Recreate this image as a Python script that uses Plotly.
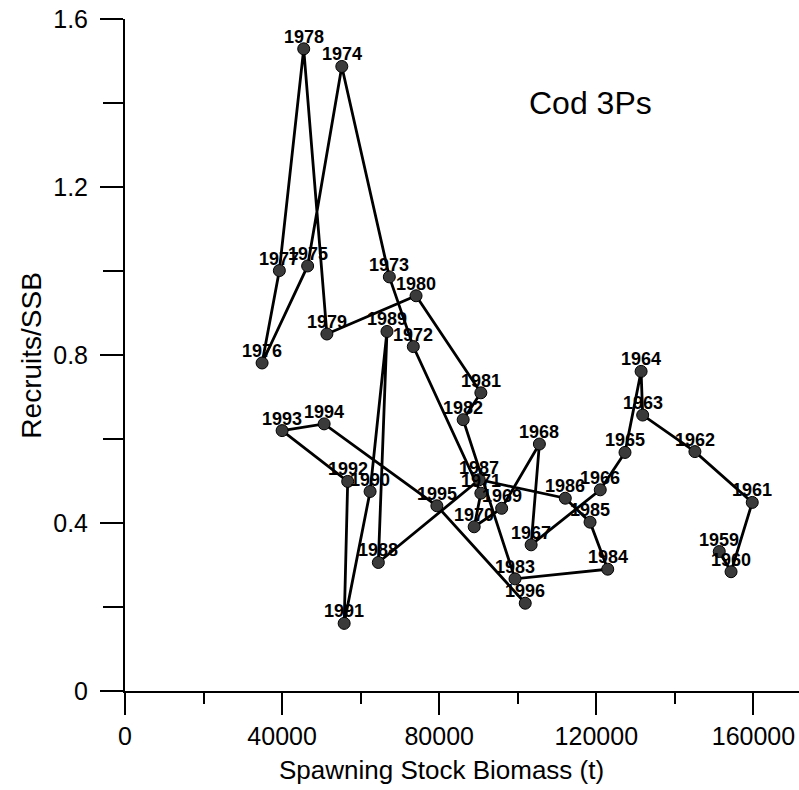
import plotly.graph_objects as go

years = [1959, 1960, 1961, 1962, 1963, 1964, 1965, 1966, 1967, 1968, 1969, 1970,
         1971, 1972, 1973, 1974, 1975, 1976, 1977, 1978, 1979, 1980, 1981, 1982,
         1983, 1984, 1985, 1986, 1987, 1988, 1989, 1990, 1991, 1992, 1993, 1994,
         1995, 1996]
ssb = [151300, 154300, 159700, 145100, 131800, 131400, 127300, 121000, 103400,
       105500, 95900, 88900, 90600, 73400, 67300, 55200, 46500, 34900, 39300,
       45500, 51400, 74100, 90600, 86100, 99300, 122900, 118400, 112100, 90200,
       64500, 66700, 62400, 55800, 56700, 40000, 50700, 79400, 101900]
rs = [0.332, 0.284, 0.449, 0.570, 0.657, 0.761, 0.568, 0.479, 0.348, 0.588,
      0.435, 0.391, 0.471, 0.820, 0.986, 1.487, 1.012, 0.781, 1.001, 1.529,
      0.850, 0.941, 0.710, 0.646, 0.267, 0.290, 0.402, 0.459, 0.503, 0.306,
      0.856, 0.475, 0.161, 0.499, 0.620, 0.636, 0.441, 0.209]

x_ticks = [0, 40000, 80000, 120000, 160000]
y_ticks = [0, 0.4, 0.8, 1.2, 1.6]

FONT = "Liberation Sans, Arial, sans-serif"

fig = go.Figure()
fig.add_trace(go.Scatter(
    x=ssb, y=rs,
    mode="lines+markers",
    line=dict(color="black", width=2.8),
    marker=dict(size=12, color="#3a3a3a", line=dict(color="black", width=1)),
    cliponaxis=False,
    showlegend=False,
))

# year labels, anchored to each data point through the axis scales
for yr, xv, yv in zip(years, ssb, rs):
    fig.add_annotation(x=xv, y=yv, xref="x", yref="y", text=str(yr),
                       showarrow=False, xanchor="center", yanchor="middle",
                       yshift=12,
                       font=dict(family=FONT, size=18, color="black", weight="bold"))

fig.add_annotation(text="Cod 3Ps", xref="paper", yref="paper", x=0.69, y=0.875,
                   xanchor="center", yanchor="middle", showarrow=False,
                   font=dict(family=FONT, size=32, color="black"))
fig.add_annotation(text="Spawning Stock Biomass (t)", xref="paper", yref="paper",
                   x=0.47, y=-0.118, xanchor="center", yanchor="middle", showarrow=False,
                   font=dict(family=FONT, size=26, color="black"))
fig.add_annotation(text="Recruits/SSB", xref="paper", yref="paper",
                   x=-0.14, y=0.5, xanchor="center", yanchor="middle", showarrow=False,
                   textangle=-90,
                   font=dict(family=FONT, size=28, color="black"))

fig.update_layout(
    width=799, height=790,
    margin=dict(l=125, r=0, t=19, b=99),
    plot_bgcolor="white", paper_bgcolor="white",
    font=dict(family=FONT, color="black"),
)
fig.update_xaxes(
    range=[0, 171600], tickvals=x_ticks, ticktext=[str(v) for v in x_ticks],
    ticks="outside", ticklen=22, tickwidth=2, tickcolor="black",
    showline=True, linecolor="black", linewidth=2,
    showgrid=False, zeroline=False, automargin=False,
    tickfont=dict(family=FONT, size=25), ticklabelstandoff=0,
    minor=dict(dtick=20000, tick0=0, ticks="outside", ticklen=11, tickwidth=2, tickcolor="black"),
)
fig.update_yaxes(
    range=[0, 1.6], tickvals=y_ticks, ticktext=["0", "0.4", "0.8", "1.2", "1.6"],
    ticks="outside", ticklen=23, tickwidth=2, tickcolor="black",
    showline=True, linecolor="black", linewidth=2,
    showgrid=False, zeroline=False, automargin=False,
    tickfont=dict(family=FONT, size=25), ticklabelstandoff=7,
    minor=dict(dtick=0.2, tick0=0, ticks="outside", ticklen=20, tickwidth=2, tickcolor="black"),
)

fig.write_html("out.html", config={"displayModeBar": False},
               post_script="document.body.style.margin='0';document.body.style.overflow='hidden';")
